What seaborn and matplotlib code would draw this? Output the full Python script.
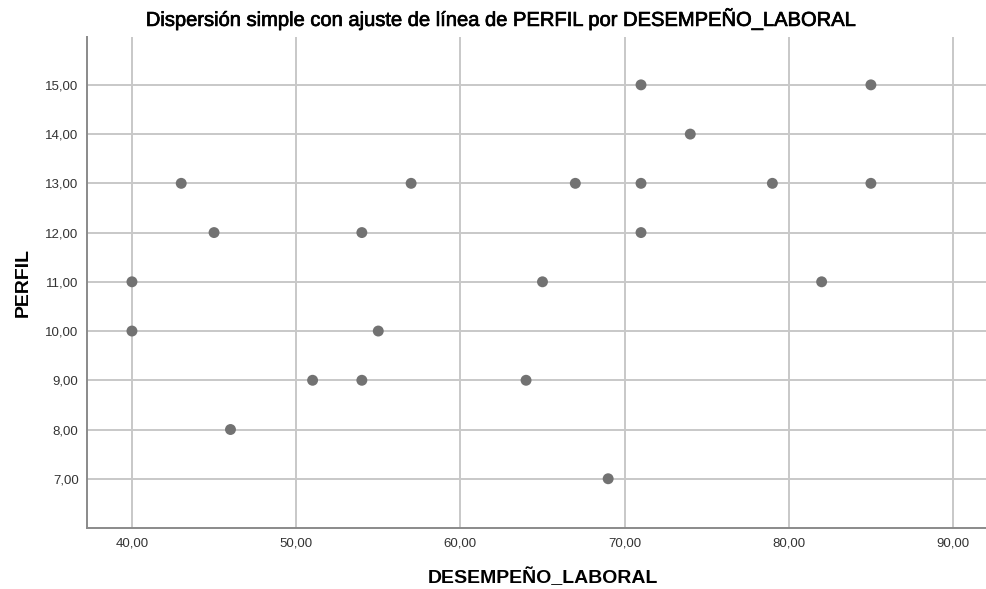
import matplotlib
matplotlib.use('Agg')
import matplotlib.pyplot as plt
import matplotlib.patheffects as pe
import pandas as pd
import seaborn as sns

# DESEMPEÑO_LABORAL vs PERFIL
desempeno = [71, 85, 74, 43, 57, 67, 71, 79, 85, 45, 54, 71, 40, 65, 82, 40, 55, 51, 54, 64, 46, 69]
perfil = [15, 15, 14, 13, 13, 13, 13, 13, 13, 12, 12, 12, 11, 11, 11, 10, 10, 9, 9, 9, 8, 7]
x_ticks = [40, 50, 60, 70, 80, 90]
y_ticks = [7, 8, 9, 10, 11, 12, 13, 14, 15]

df = pd.DataFrame({'DESEMPEÑO_LABORAL': desempeno, 'PERFIL': perfil})

sns.set_style('white')
plt.rcParams['font.family'] = ['Liberation Sans', 'DejaVu Sans']

fig = plt.figure(figsize=(9.87, 5.89), dpi=100)
ax = fig.add_axes([0.0881, 0.1036, 0.9119, 0.8334])

sns.scatterplot(data=df, x='DESEMPEÑO_LABORAL', y='PERFIL', ax=ax,
                color='#727272', s=62, edgecolor='none', zorder=3)

ax.set_xlim(37.26, 92.07)
ax.set_ylim(6.0, 15.97)
ax.set_xticks(x_ticks)
ax.set_yticks(y_ticks)
ax.set_xticklabels([f'{v:.2f}'.replace('.', ',') for v in x_ticks])
ax.set_yticklabels([f'{v:.2f}'.replace('.', ',') for v in y_ticks])
ax.tick_params(length=0, labelsize=9.5, colors='#333333')
ax.tick_params(axis='y', pad=6)
ax.tick_params(axis='x', pad=7)

ax.grid(True, color='#c8c8c8', linewidth=1.4, zorder=0)
ax.set_axisbelow(True)
for side in ['top', 'right']:
    ax.spines[side].set_visible(False)
for side in ['left', 'bottom']:
    ax.spines[side].set_color('#8a8a8a')
    ax.spines[side].set_linewidth(1.4)

ax.set_xlabel('DESEMPEÑO_LABORAL', fontsize=14, fontweight='bold', color='black')
ax.set_ylabel('PERFIL', fontsize=14, fontweight='bold', color='black')
ax.xaxis.set_label_coords(0.507, -0.083)
ax.yaxis.set_label_coords(-0.061, 0.5)

fig.text(501 / 987, 1 - 19 / 589,
         'Dispersión simple con ajuste de línea de PERFIL por DESEMPEÑO_LABORAL',
         fontsize=14.5, ha='center', va='center', color='black',
         path_effects=[pe.withStroke(linewidth=0.5, foreground='black')])

fig.savefig('out.png', dpi=100)
